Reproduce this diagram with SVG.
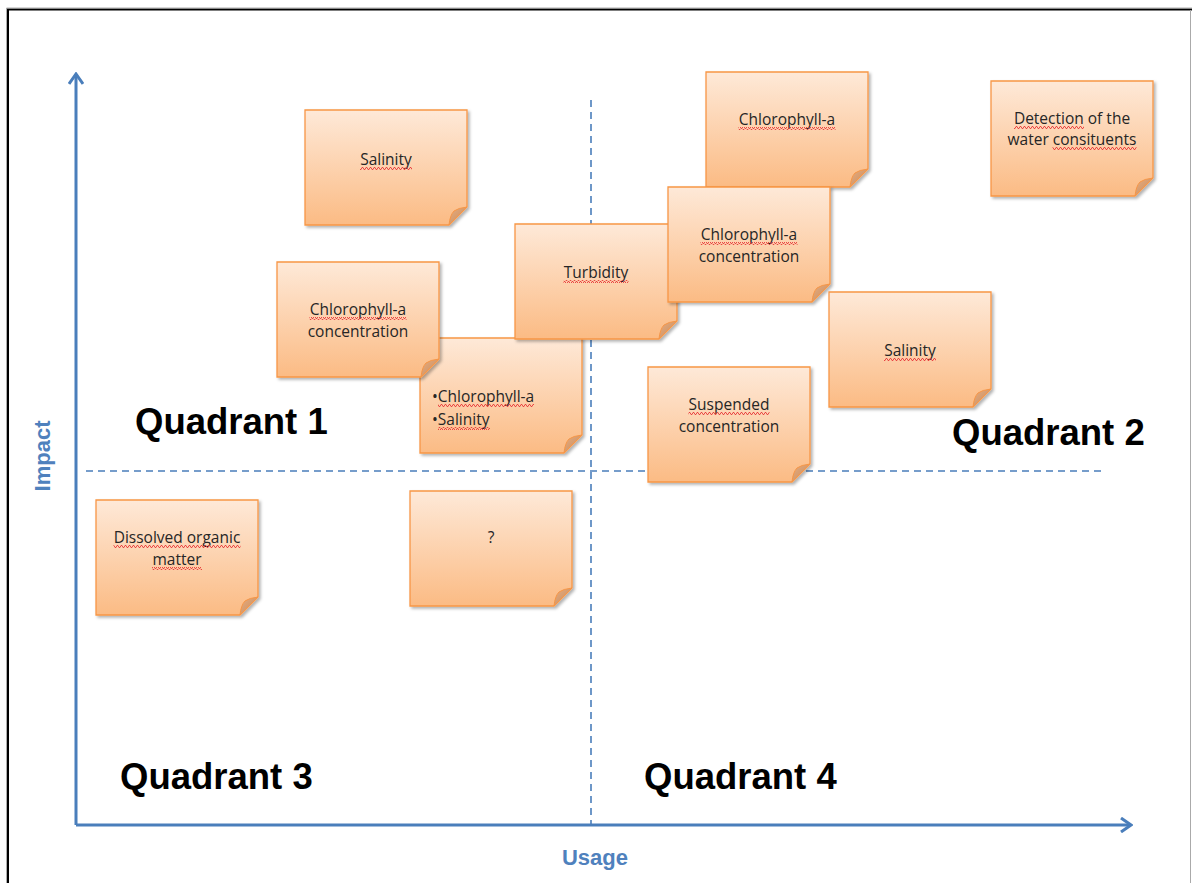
<svg xmlns="http://www.w3.org/2000/svg" width="1192" height="883" viewBox="0 0 1192 883">
<style>
.nt{font-family:"Open Sans","Liberation Sans",sans-serif;font-size:15.5px;fill:#262626;text-anchor:middle}
.ntl{text-anchor:start}
.sq{fill:url(#sq)}
.q{font-family:"Liberation Sans",Arial,sans-serif;font-size:36.5px;font-weight:bold;fill:#000}
.ax{font-family:"Liberation Sans",Arial,sans-serif;font-size:22px;font-weight:bold;fill:#4f81bd}
.dash{stroke:#4a7ebb;stroke-width:1.6;stroke-dasharray:7,5;fill:none}
.axis{stroke:#4a7ebb;stroke-width:3;fill:none}
</style>
<defs>
<pattern id="sq" width="4" height="3" patternUnits="userSpaceOnUse">
<path d="M0,2.5 L1,0.5 L2,0.5 L3,2.5 L4,2.5" fill="none" stroke="#e8393a" stroke-width="0.9"/>
</pattern>
<linearGradient id="ng" x1="0" y1="0" x2="0" y2="1">
<stop offset="0" stop-color="#fee9d8"/>
<stop offset="1" stop-color="#fbbb84"/>
</linearGradient>
<linearGradient id="fg" x1="0" y1="0" x2="1" y2="1">
<stop offset="0" stop-color="#e6ad80"/>
<stop offset="1" stop-color="#c98a5a"/>
</linearGradient>
<filter id="sh" x="-10%" y="-10%" width="125%" height="125%">
<feDropShadow dx="2" dy="2" stdDeviation="1.5" flood-color="#000" flood-opacity="0.3"/>
</filter>
<g id="note">
<path d="M0,0 H162 V97 L144,115 H0 Z" fill="url(#ng)" stroke="#f79646" stroke-width="1.3" filter="url(#sh)"/>
<path d="M162,97 L144,115 Q145,105 149,101 Q153,98 162,97 Z" fill="url(#fg)" stroke="#f79646" stroke-width="1"/>
</g>
<marker id="arr" viewBox="0 0 14 16" refX="12" refY="8" markerWidth="14" markerHeight="16" markerUnits="userSpaceOnUse" orient="auto">
<path d="M2,1 L12,8 L2,15" fill="none" stroke="#4a7ebb" stroke-width="3"/>
</marker>
</defs>
<rect width="1192" height="883" fill="#fff"/>
<g id="frame">
<path d="M8,883 V9.5 H1192" fill="none" stroke="#000" stroke-width="2"/>
<path d="M6.5,883 V8 H1192" fill="none" stroke="#999" stroke-width="0.8"/>
<line x1="1190.5" y1="10" x2="1190.5" y2="883" stroke="#aaa" stroke-width="1"/>
</g>
<g id="connectors">
<line class="dash" x1="591" y1="100" x2="591" y2="825"/>
<line class="dash" x1="86" y1="471" x2="1106" y2="471"/>
<line class="axis" x1="76" y1="825" x2="76" y2="74" marker-end="url(#arr)"/>
<line class="axis" x1="76" y1="825" x2="1131" y2="825" marker-end="url(#arr)"/>
</g>
<g id="labels">
<text class="q" x="135" y="434">Quadrant 1</text>
<text class="q" x="952" y="445">Quadrant 2</text>
<text class="q" x="120" y="789">Quadrant 3</text>
<text class="q" x="644" y="789">Quadrant 4</text>
<text class="ax" x="595" y="865" text-anchor="middle">Usage</text>
<text class="ax" transform="translate(50,456) rotate(-90)" text-anchor="middle">Impact</text>
</g>
<g id="n-salinity-1" transform="translate(305,110)"><use href="#note"/><text class="nt" x="81" y="55">Salinity</text><rect class="sq" x="55" y="57" width="52" height="3"/></g>
<g id="n-dissolved" transform="translate(96,500)"><use href="#note"/><text class="nt" x="81" y="43">Dissolved organic</text><rect class="sq" x="17.5" y="45" width="127" height="3"/><text class="nt" x="81" y="65">matter</text><rect class="sq" x="56" y="67" width="50" height="3"/></g>
<g id="n-question" transform="translate(410,491)"><use href="#note"/><text class="nt" x="81" y="52">?</text></g>
<g id="n-bullets" transform="translate(420,338)"><use href="#note"/><text class="nt ntl" x="12" y="64">•Chlorophyll-a</text><rect class="sq" x="18" y="66" width="96" height="3"/><text class="nt ntl" x="12" y="87">•Salinity</text><rect class="sq" x="18" y="89" width="52" height="3"/></g>
<g id="n-chl-conc-1" transform="translate(277,262)"><use href="#note"/><text class="nt" x="81" y="53">Chlorophyll-a</text><rect class="sq" x="32.5" y="55" width="97" height="3"/><text class="nt" x="81" y="75">concentration</text></g>
<g id="n-turbidity" transform="translate(515,224)"><use href="#note"/><text class="nt" x="81" y="54">Turbidity</text><rect class="sq" x="48.5" y="56" width="65" height="3"/></g>
<g id="n-chl-a" transform="translate(706,72)"><use href="#note"/><text class="nt" x="81" y="53">Chlorophyll-a</text><rect class="sq" x="32.5" y="55" width="97" height="3"/></g>
<g id="n-chl-conc-2" transform="translate(668,187)"><use href="#note"/><text class="nt" x="81" y="53">Chlorophyll-a</text><rect class="sq" x="32.5" y="55" width="97" height="3"/><text class="nt" x="81" y="75">concentration</text></g>
<g id="n-detection" transform="translate(991,81)"><use href="#note"/><text class="nt" x="81" y="43">Detection of the</text><rect class="sq" x="23" y="45" width="70" height="3"/><text class="nt" x="81" y="64">water consituents</text><rect class="sq" x="61.5" y="66" width="84" height="3"/></g>
<g id="n-salinity-2" transform="translate(829,292)"><use href="#note"/><text class="nt" x="81" y="64">Salinity</text><rect class="sq" x="55" y="66" width="52" height="3"/></g>
<g id="n-suspended" transform="translate(648,367)"><use href="#note"/><text class="nt" x="81" y="43">Suspended</text><rect class="sq" x="40.5" y="45" width="81" height="3"/><text class="nt" x="81" y="65">concentration</text></g>
</svg>
